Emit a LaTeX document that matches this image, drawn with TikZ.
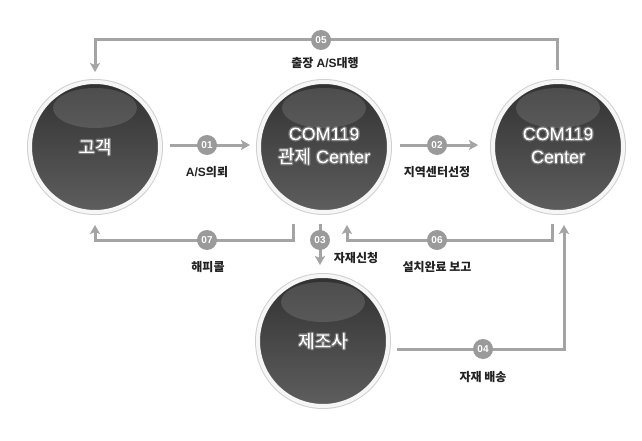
\documentclass[tikz,border=0pt]{standalone}
\usepackage{fontspec}
\setmainfont{Liberation Sans}
\newfontfamily\hangul{Noto Sans CJK KR}
\usetikzlibrary{arrows.meta,calc}
\definecolor{disctop}{HTML}{313131}
\definecolor{discbot}{HTML}{5E5E5E}
\definecolor{ringedge}{HTML}{D0D0D0}
\definecolor{ringcol}{HTML}{F6F6F6}
\definecolor{linecol}{HTML}{A4A4A4}
\definecolor{badgecol}{HTML}{9A9A9A}
\definecolor{labelcol}{HTML}{222222}
% soft halo: the text is filled white and stroked with a wide translucent white line
\newcommand\glowtext[1]{%
  \pgfsetstrokeopacity{0.28}\pgfsetlinewidth{2.6pt}\pgfsetroundjoin
  \special{pdf:literal direct 2 Tr}%
  #1%
  \special{pdf:literal direct 0 Tr}%
  \pgfsetstrokeopacity{1}}
\begin{document}
\begin{tikzpicture}[x=1pt,y=-1pt,
  bubble/.style={circle, minimum size=130pt, inner sep=0pt,
    top color=disctop, bottom color=discbot,
    draw=ringcol, line width=4pt,
    preaction={draw=ringedge, line width=6pt},
    path picture={\fill[white, fill opacity=0.13]
      ([yshift=39pt]path picture bounding box.center) ellipse [x radius=42pt, y radius=20pt];},
    text=white, font=\fontsize{18}{23}\selectfont, align=center},
  conn/.style={draw=linecol, line width=3pt, -{Stealth[length=9pt,width=10pt,inset=2pt]}},
  badge/.style={circle, fill=badgecol, minimum size=20pt, inner sep=0pt, text=white,
    font=\bfseries\fontsize{10}{10}\selectfont},
  lbl/.style={inner sep=0pt, text=labelcol, font=\bfseries\fontsize{12}{13}\selectfont}]
\fill[white] (0,0) rectangle (642,441);
\useasboundingbox (0,0) rectangle (642,441);

% circles
\node[bubble] (c1) at (95,147) {\glowtext{\hangul 고객}};
\node[bubble] (c2) at (324,147) {\glowtext{\begin{tabular}{@{}c@{}}COM119\\{\hangul 관제} Center\end{tabular}}};
\node[bubble] (c3) at (558,147) {\glowtext{\begin{tabular}{@{}c@{}}COM119\\Center\end{tabular}}};
\node[bubble] (c4) at (323,341) {\glowtext{\hangul 제조사}};

% helper coordinates
\coordinate (top) at (0,40);
\coordinate (low) at (0,240);
\coordinate (p5) at ([xshift=-1pt,yshift=10pt]c3.north);
\coordinate (p7) at ([xshift=-31pt,yshift=-10pt]c2.south);
\coordinate (p6) at ([xshift=-6pt,yshift=-10pt]c3.south);
\coordinate (q6) at ([xshift=23pt,yshift=-11pt]c2.south);

% connectors
\draw[conn] ([xshift=8pt,yshift=2pt]c1.east) -- ([xshift=-7pt,yshift=2pt]c2.west);
\draw[conn] ([xshift=9pt,yshift=2pt]c2.east) -- ([xshift=-13pt,yshift=2pt]c3.west);
\draw[conn] (p5) -- (p5 |- top) -- (c1.north |- top) -- ([yshift=8pt]c1.north);
\draw[conn] (p7) -- (p7 |- low) -- (c1.south |- low) -- ([yshift=-11pt]c1.south);
\draw[conn] ([xshift=-4pt,yshift=-10pt]c2.south) -- ([xshift=-3pt,yshift=9pt]c4.north);
\draw[conn] (p6) -- (p6 |- low) -- (q6 |- low) -- (q6);
\draw[conn] ([xshift=7pt,yshift=-8pt]c4.east) -| ([xshift=6pt,yshift=-11pt]c3.south);

% badges
\node[badge] (b1) at (207,145) {01};
\node[badge] (b2) at (437,145) {02};
\node[badge] (b3) at (320,240) {03};
\node[badge] (b4) at (483,349) {04};
\node[badge] (b5) at (321,40) {05};
\node[badge] (b6) at (437,240) {06};
\node[badge] (b7) at (207,240) {07};

% labels
\node[lbl] (l1) at (207,172) {A/S{\hangul 의뢰}};
\node[lbl] (l2) at (437,172) {\hangul 지역센터선정};
\node[lbl] (l3) at (356,258) {\hangul 자재신청};
\node[lbl] (l4) at (483,377) {\hangul 자재 배송};
\node[lbl] (l5) at (325,63) {{\hangul 출장} A/S{\hangul 대행}};
\node[lbl] (l6) at (437,267) {\hangul 설치완료 보고};
\node[lbl] (l7) at (208,267) {\hangul 해피콜};
\end{tikzpicture}
\end{document}
